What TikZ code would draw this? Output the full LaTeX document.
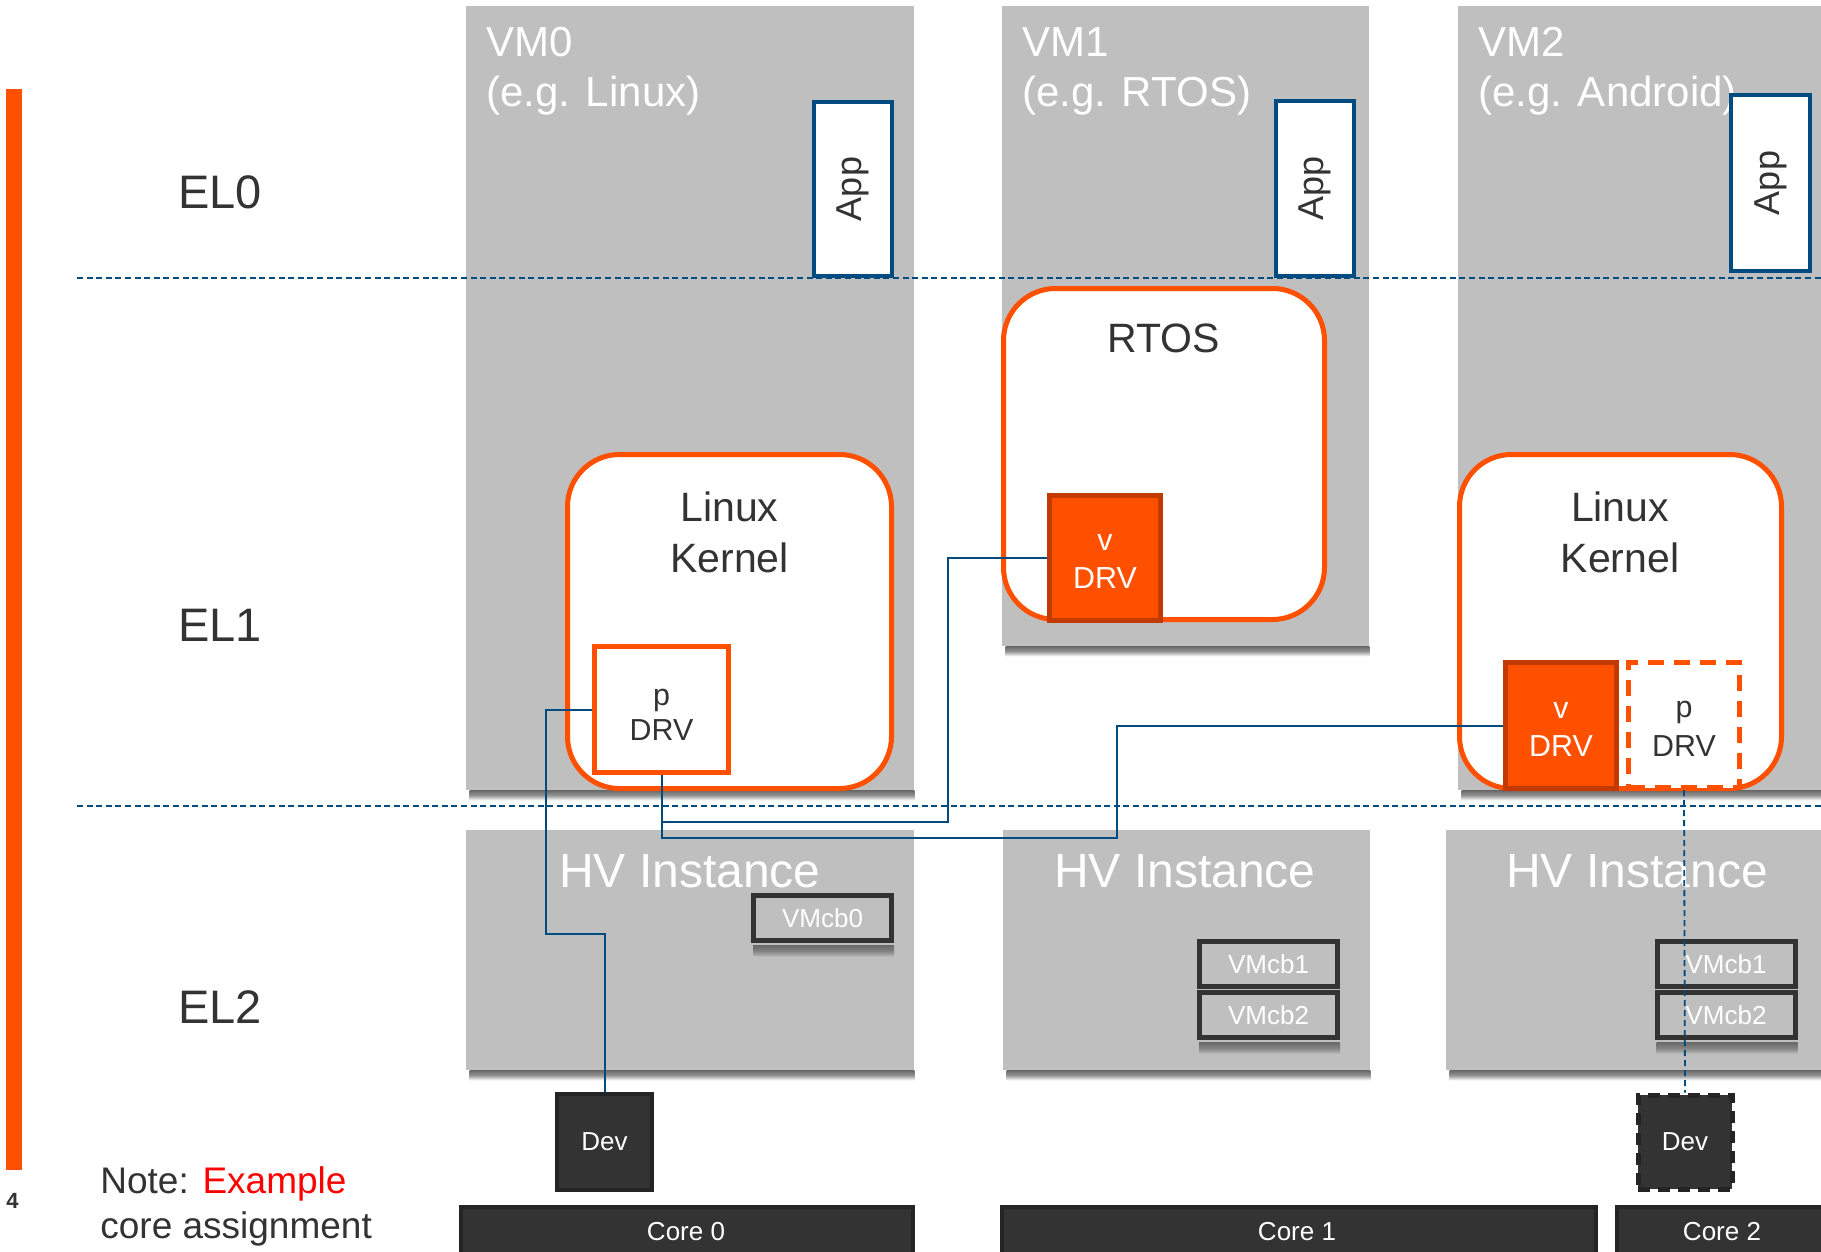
\documentclass[tikz,border=0pt]{standalone}
\usepackage{fontspec}
\setmainfont{Liberation Sans}
\definecolor{armorange}{HTML}{FF5000}
\definecolor{darkorange}{HTML}{C23A00}
\definecolor{vmgrey}{HTML}{BFBFBF}
\definecolor{lineblue}{HTML}{004B7F}
\definecolor{darkbox}{HTML}{333333}
\definecolor{darkedge}{HTML}{242424}
\definecolor{txt}{HTML}{333333}
\definecolor{notered}{HTML}{FF0000}
\definecolor{shadowdark}{HTML}{6A6A6A}
\tikzset{
  vmbox/.style={fill=vmgrey, draw=none, inner sep=0pt},
  shadowW/.style={top color=shadowdark, bottom color=white, middle color=shadowdark!70!white, shading angle=0},
  shadowG/.style={top color=shadowdark, bottom color=vmgrey, middle color=shadowdark!70!vmgrey},
  vmlabel/.style={text=white, inner sep=0pt, anchor=base west, font=\fontsize{21}{25}\selectfont},
  eltxt/.style={text=txt, inner sep=0pt, anchor=base west, font=\fontsize{23.5}{28}\selectfont},
  eldash/.style={draw=lineblue, line width=1pt, dash pattern=on 3pt off 1.8pt},
  appbox/.style={draw=lineblue, line width=2pt, fill=white, inner sep=0pt, text=txt, font=\fontsize{18}{20}\selectfont},
  kernel/.style={draw=armorange, line width=2.5pt, fill=white, rounded corners=26pt, inner sep=0pt},
  ktxt/.style={text=txt, inner sep=0pt, anchor=base, font=\fontsize{20.5}{24}\selectfont},
  pdrv/.style={draw=armorange, line width=2.5pt, fill=white, inner sep=0pt},
  pdrvdash/.style={draw=armorange, line width=2.5pt, fill=white, inner sep=0pt, dash pattern=on 8pt off 5pt},
  vdrv/.style={draw=darkorange, line width=2.5pt, fill=armorange, inner sep=0pt},
  dtxt/.style={text=txt, inner sep=0pt, anchor=base, font=\fontsize{15.2}{18}\selectfont},
  wdtxt/.style={text=white, inner sep=0pt, anchor=base, font=\fontsize{15.2}{18}\selectfont},
  hvtxt/.style={text=white, inner sep=0pt, anchor=base, font=\fontsize{24}{28}\selectfont},
  vmcb/.style={fill=vmgrey, draw=darkbox, line width=2.5pt, text=white, inner sep=0pt, font=\fontsize{13}{15}\selectfont},
  devbox/.style={fill=darkbox, draw=darkedge, line width=2pt, text=white, inner sep=0pt, font=\fontsize{13}{15}\selectfont},
  devdash/.style={fill=darkbox, draw=darkedge, line width=2.5pt, text=white, inner sep=0pt, font=\fontsize{13}{15}\selectfont, dash pattern=on 6pt off 4pt},
  corebox/.style={fill=darkbox, draw=darkedge, line width=2pt, inner sep=0pt, anchor=north},
  coretxt/.style={text=white, inner sep=0pt, anchor=base, font=\fontsize{13}{15}\selectfont},
  notetxt/.style={text=txt, inner sep=0pt, anchor=base west, font=\fontsize{18.5}{22}\selectfont},
  conn/.style={draw=lineblue, line width=1pt},
  conndash/.style={draw=lineblue, line width=0.9pt, dash pattern=on 3pt off 2pt},
}
\begin{document}
\begin{tikzpicture}[x=0.5pt,y=-0.5pt]
\useasboundingbox (0,0) rectangle (1821,1252);
\fill[white] (0,0) rectangle (1821,1252);

% orange side bar and page number
\fill[armorange] (6,89) rectangle (22,1170);
\node[text=txt, inner sep=0pt, anchor=base, font=\fontsize{11}{13}\selectfont\bfseries] (pagenum) at (12.5,1208) {4};

% VM boxes
\node[vmbox, minimum width=224pt, minimum height=392pt] (VM0) at (690,398) {};
\node[vmbox, minimum width=183.5pt, minimum height=320pt] (VM1) at (1185.5,326) {};
\node[vmbox, minimum width=186pt, minimum height=392pt] (VM2) at (1644,398) {};
\shade[shadowW] ([xshift=2pt]VM0.south west) rectangle ([yshift=-5pt]VM0.south east);
\shade[shadowW] ([xshift=2pt]VM1.south west) rectangle ([yshift=-5pt]VM1.south east);
\shade[shadowW] ([xshift=2pt]VM2.south west) rectangle ([yshift=-5pt]VM2.south east);

\node[vmlabel] (VM0a) at (486,57) {VM0};
\node[vmlabel] (VM0b) at (486,107) {(e.g. Linux)};
\node[vmlabel] (VM1a) at (1022,57) {VM1};
\node[vmlabel] (VM1b) at (1022,107) {(e.g. RTOS)};
\node[vmlabel] (VM2a) at (1478,57) {VM2};
\node[vmlabel] (VM2b) at (1478,107) {(e.g. Android)};

% EL labels
\node[eltxt] (EL0) at (178,208) {EL0};
\node[eltxt] (EL1) at (178,641) {EL1};
\node[eltxt] (EL2) at (178,1023) {EL2};

% EL separators
\draw[eldash] (77,278) -- (1821,278);

% Apps
\node[appbox, rotate=90, minimum width=87pt, minimum height=39pt] (App0) at (853,189) {App};
\node[appbox, rotate=90, minimum width=87.5pt, minimum height=39pt] (App1) at (1315,188.5) {App};
\node[appbox, rotate=90, minimum width=88pt, minimum height=39.5pt] (App2) at (1770.5,183) {App};

% Kernels
\node[kernel, minimum width=162pt, minimum height=167pt] (LK0) at (729.5,621.5) {};
\node[ktxt] (LK0a) at (729.5,521) {Linux};
\node[ktxt] (LK0b) at (729.5,572) {Kernel};
\node[kernel, minimum width=160.5pt, minimum height=165.5pt] (RTOS) at (1164,454) {};
\node[ktxt] (RTOSt) at (1164,352) {RTOS};
\node[kernel, minimum width=161pt, minimum height=167pt] (LK2) at (1620.5,621.5) {};
\node[ktxt] (LK2a) at (1620,521) {Linux};
\node[ktxt] (LK2b) at (1620,572) {Kernel};

% Drivers
\node[pdrv, minimum width=67pt, minimum height=63pt] (pDRV0) at (661.5,709.5) {};
\node[dtxt] (pDRV0a) at (661.5,705) {p};
\node[dtxt] (pDRV0b) at (661.5,740) {DRV};
\node[vdrv, minimum width=55.5pt, minimum height=62.5pt] (vDRV1) at (1105,558) {};
\node[wdtxt] (vDRV1a) at (1105,550) {v};
\node[wdtxt] (vDRV1b) at (1105,588) {DRV};
\node[vdrv, minimum width=55.5pt, minimum height=63pt] (vDRV2) at (1561,725.5) {};
\node[wdtxt] (vDRV2a) at (1561,718) {v};
\node[wdtxt] (vDRV2b) at (1561,756) {DRV};
\node[pdrvdash, minimum width=55.5pt, minimum height=62.5pt] (pDRV2) at (1684,725) {};
\node[dtxt] (pDRV2a) at (1684,717) {p};
\node[dtxt] (pDRV2b) at (1684,756) {DRV};

% second separator
\draw[eldash] (77,806) -- (1821,806);

% HV instances
\node[vmbox, minimum width=224pt, minimum height=120pt] (HV0) at (690,950) {};
\node[vmbox, minimum width=183.5pt, minimum height=120pt] (HV1) at (1186.5,950) {};
\node[vmbox, minimum width=192pt, minimum height=120pt] (HV2) at (1638,950) {};
\shade[shadowW] ([xshift=2pt]HV0.south west) rectangle ([yshift=-5pt]HV0.south east);
\shade[shadowW] ([xshift=2pt]HV1.south west) rectangle ([yshift=-5pt]HV1.south east);
\shade[shadowW] ([xshift=2pt]HV2.south west) rectangle ([yshift=-5pt]HV2.south east);
\node[hvtxt] (HV0t) at (690,887) {HV Instance};
\node[hvtxt] (HV1t) at (1185,887) {HV Instance};
\node[hvtxt] (HV2t) at (1637,887) {HV Instance};

\node[vmcb, minimum width=69pt, minimum height=22.5pt] (VMcb0) at (822.5,918) {VMcb0};
\shade[shadowG] ([xshift=1pt,yshift=-1.2pt]VMcb0.south west) rectangle ([yshift=-7pt]VMcb0.south east);
\node[vmcb, minimum width=69pt, minimum height=22.5pt] (VMcb1a) at (1268.5,964) {VMcb1};
\node[vmcb, minimum width=69pt, minimum height=22.5pt] (VMcb2a) at (1268.5,1015) {VMcb2};
\shade[shadowG] ([xshift=1pt,yshift=-1.2pt]VMcb2a.south west) rectangle ([yshift=-7pt]VMcb2a.south east);
\node[vmcb, minimum width=69pt, minimum height=22.5pt] (VMcb1b) at (1726,964) {VMcb1};
\node[vmcb, minimum width=69pt, minimum height=22.5pt] (VMcb2b) at (1726,1015) {VMcb2};
\shade[shadowG] ([xshift=1pt,yshift=-1.2pt]VMcb2b.south west) rectangle ([yshift=-7pt]VMcb2b.south east);

% Devices
\node[devbox, minimum width=47.5pt, minimum height=48pt] (Dev0) at (604.5,1142) {Dev};
\node[devdash, minimum width=47pt, minimum height=47pt] (Dev2) at (1685,1142) {Dev};

% Cores
\node[corebox, minimum width=226pt, minimum height=30pt] (Core0) at (687,1205) {};
\node[coretxt] (Core0t) at (686,1240) {Core 0};
\node[corebox, minimum width=297pt, minimum height=30pt] (Core1) at (1299,1205) {};
\node[coretxt] (Core1t) at (1297,1240) {Core 1};
\node[corebox, minimum width=106pt, minimum height=30pt] (Core2) at (1723,1205) {};
\node[coretxt] (Core2t) at (1722,1240) {Core 2};

% Note
\node[notetxt] (note1) at (100,1193) {Note: \textcolor{notered}{Example}};
\node[notetxt] (note2) at (100,1238) {core assignment};

% Connectors
\draw[conn] (pDRV0.west) -- (546,709.5) -- (546,934) -- (604.5,934) -- (Dev0.north);
\draw[conn] (pDRV0.south) -- (661.5,822) -- (948,822) -- (948,558) -- (vDRV1.west);
\draw[conn] (pDRV0.south) -- (661.5,838) -- (1117,838) -- (1117,725.5) -- (vDRV2.west);
\draw[conndash] (pDRV2.south) -- (Dev2.north);
\end{tikzpicture}
\end{document}
